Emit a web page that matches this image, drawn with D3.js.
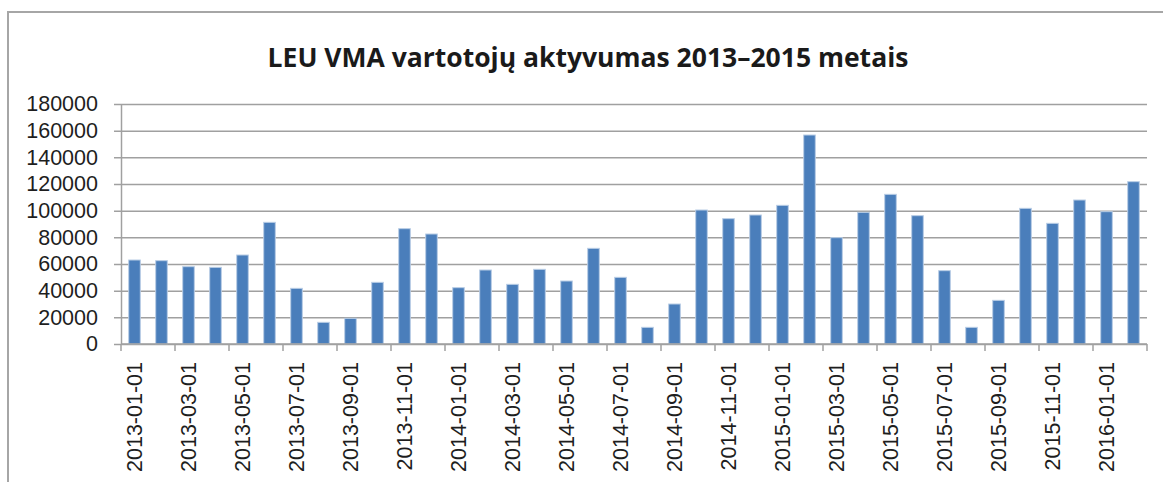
<!DOCTYPE html>
<html lang="lt">
<head>
    <meta charset="UTF-8">
    <title>LEU VMA vartotojų aktyvumas</title>
    <style>
        body { margin: 0; background: #fff; }
        .axis text { font-family: "Liberation Sans", Arial, sans-serif; font-size: 21.5px; fill: #1e1e1e; }
        .bar { fill: #4a7ebb; stroke: #b9cde5; stroke-width: 1; }
    </style>
</head>
<body>
    <div id="chart"></div>
    <script src="https://cdn.jsdelivr.net/npm/d3@7"></script>
    <script>

        var width = 1163,
            height = 482;

        // months shown on the category axis
        var categories = [
            "2013-01-01","2013-02-01","2013-03-01","2013-04-01","2013-05-01","2013-06-01",
            "2013-07-01","2013-08-01","2013-09-01","2013-10-01","2013-11-01","2013-12-01",
            "2014-01-01","2014-02-01","2014-03-01","2014-04-01","2014-05-01","2014-06-01",
            "2014-07-01","2014-08-01","2014-09-01","2014-10-01","2014-11-01","2014-12-01",
            "2015-01-01","2015-02-01","2015-03-01","2015-04-01","2015-05-01","2015-06-01",
            "2015-07-01","2015-08-01","2015-09-01","2015-10-01","2015-11-01","2015-12-01",
            "2016-01-01","2016-02-01"
        ];

        var values = [
            63000, 62500, 58000, 57500, 66750, 91250,
            41750, 16250, 19250, 46250, 86500, 82500,
            42250, 55500, 44750, 56000, 47250, 71750,
            50000, 12500, 30000, 100500, 94000, 96750,
            104000, 156750, 79750, 98750, 112250, 96250,
            55000, 12500, 32750, 101750, 90500, 108000,
            99250, 121750
        ];

        var yTicks = [0, 20000, 40000, 60000, 80000, 100000, 120000, 140000, 160000, 180000];

        var title = "LEU VMA vartotojų aktyvumas 2013–2015 metais";

        var data = categories.map(function(c, i) { return { month: c, value: values[i] }; });

        var svg = d3.select("#chart").append("svg")
            .attr("width", width)
            .attr("height", height);

        // chart frame (only top and left edge visible)
        svg.append("path")
            .attr("d", "M8," + height + "V12H" + width)
            .attr("fill", "none")
            .attr("stroke", "#a6a6a6")
            .attr("stroke-width", 2);

        svg.append("text")
            .attr("x", 588)
            .attr("y", 67)
            .attr("text-anchor", "middle")
            .style("font-family", "'Open Sans', sans-serif")
            .style("font-weight", 700)
            .style("font-size", "26.5px")
            .style("fill", "#1a1a1a")
            .text(title);

        var plotL = 121, plotR = 1147, plotT = 104, plotB = 344;

        var x = d3.scaleBand()
            .domain(categories)
            .range([plotL, plotR])
            .paddingInner(0.57)
            .paddingOuter(0.285);

        var y = d3.scaleLinear()
            .domain([0, 180000])
            .range([plotB, plotT]);

        // y axis + gridlines
        var yAxis = svg.append("g")
            .attr("class", "axis")
            .attr("transform", "translate(" + plotL + ",0)")
            .call(d3.axisLeft(y).tickValues(yTicks).tickSizeInner(0).tickSizeOuter(0).tickPadding(23).tickFormat(d3.format("d")));

        yAxis.select(".domain").attr("stroke", "#a0a0a0").attr("stroke-width", 1.5);
        yAxis.selectAll(".tick line")
            .attr("x1", -7)
            .attr("x2", plotR - plotL)
            .attr("stroke", "#a0a0a0")
            .attr("stroke-width", 1.5);

        // bars
        svg.append("g").selectAll("rect")
            .data(data)
            .enter().append("rect")
            .attr("class", "bar")
            .attr("x", function(d) { return x(d.month); })
            .attr("y", function(d) { return y(d.value); })
            .attr("width", x.bandwidth())
            .attr("height", function(d) { return y(0) - y(d.value); });

        // x axis: ticks and labels every second month
        var shift = (x.step() - x.bandwidth()) / 2;
        var every2 = categories.filter(function(c, i) { return i % 2 === 0; });

        var xAxis = svg.append("g").attr("class", "axis");

        xAxis.append("line")
            .attr("x1", plotL).attr("x2", plotR)
            .attr("y1", plotB).attr("y2", plotB)
            .attr("stroke", "#a0a0a0").attr("stroke-width", 1.5);

        xAxis.selectAll(".xt")
            .data(every2.concat(["end"]))
            .enter().append("line")
            .attr("class", "xt")
            .attr("x1", function(d) { return d === "end" ? plotR : x(d) - shift; })
            .attr("x2", function(d) { return d === "end" ? plotR : x(d) - shift; })
            .attr("y1", plotB)
            .attr("y2", plotB + 7)
            .attr("stroke", "#a0a0a0").attr("stroke-width", 1.5);

        xAxis.selectAll(".xl")
            .data(every2)
            .enter().append("text")
            .attr("class", "xl")
            .attr("transform", function(d) {
                return "translate(" + (x(d) + x.bandwidth() / 2) + "," + 362 + ") rotate(-90)";
            })
            .attr("dy", "0.35em")
            .attr("text-anchor", "end")
            .text(function(d) { return d; });

    </script>
</body>
</html>
